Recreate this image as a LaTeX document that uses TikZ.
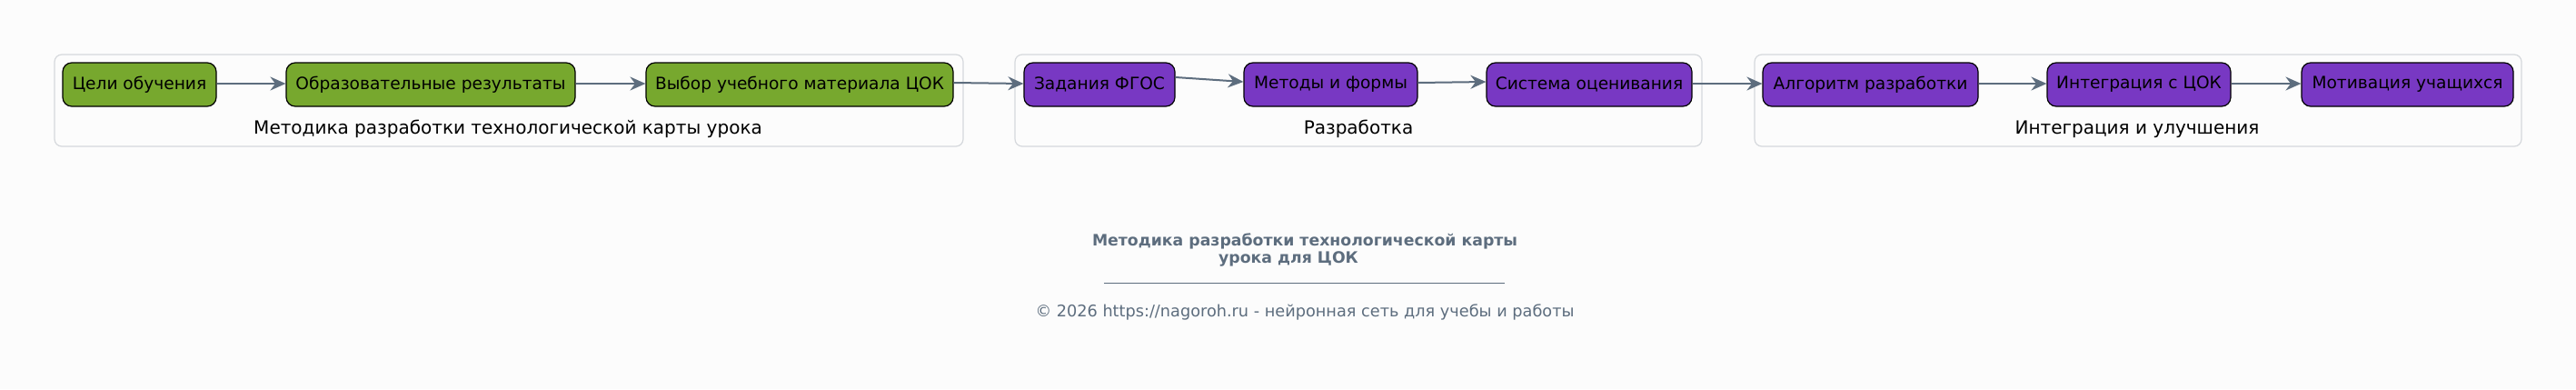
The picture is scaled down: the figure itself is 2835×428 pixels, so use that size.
\documentclass[tikz,border=0pt]{standalone}
\usepackage{fontspec}
\setmainfont{DejaVu Sans}
\usetikzlibrary{arrows.meta}
\definecolor{bgc}{HTML}{FCFCFC}
\definecolor{greenfill}{HTML}{77A82E}
\definecolor{purplefill}{HTML}{7838C3}
\definecolor{slate}{HTML}{5D6D7E}
\definecolor{clusterline}{HTML}{D5D8DC}
\tikzset{
  stepnode/.style={draw=black, line width=0.6pt, rounded corners=5pt, minimum height=24pt,
    inner xsep=3pt, font=\fontsize{9.3}{11}\selectfont, text=black, anchor=center},
  gnode/.style={stepnode, fill=greenfill},
  pnode/.style={stepnode, fill=purplefill},
  clusterbox/.style={draw=clusterline, line width=0.6pt, rounded corners=4pt, fill=none},
  clusterlabel/.style={font=\fontsize{10}{12}\selectfont, text=black},
  arr/.style={draw=slate, line width=1pt, -{Stealth[length=8.5pt,width=7.5pt,inset=2.8pt]}},
}
\begin{document}
\begin{tikzpicture}[x=0.5pt,y=-0.5pt]
\fill[bgc] (0,0) rectangle (2835,428);
\useasboundingbox (0,0) rectangle (2835,428);
% clusters
\node[clusterbox, minimum width=500pt, minimum height=50.5pt] (c1) at (560,110.5) {};
\node[clusterbox, minimum width=378pt, minimum height=50.5pt] (c2) at (1495,110.5) {};
\node[clusterbox, minimum width=422pt, minimum height=50.5pt] (c3) at (2353,110.5) {};
\node[clusterlabel] (l1) at (559,142) {Методика разработки технологической карты урока};
\node[clusterlabel] (l2) at (1495,142) {Разработка};
\node[clusterlabel] (l3) at (2352,142) {Интеграция и улучшения};
% nodes
\node[gnode, minimum width=84.5pt] (n1) at (153.5,93) {Цели обучения};
\node[gnode, minimum width=159pt] (n2) at (474,93) {Образовательные результаты};
\node[gnode, minimum width=169pt] (n3) at (880,93) {Выбор учебного материала ЦОК};
\node[pnode, minimum width=83pt] (n4) at (1210,93) {Задания ФГОС};
\node[pnode, minimum width=95.5pt] (n5) at (1464.5,93) {Методы и формы};
\node[pnode, minimum width=113pt] (n6) at (1749,93) {Система оценивания};
\node[pnode, minimum width=118.5pt] (n7) at (2058.5,93) {Алгоритм разработки};
\node[pnode, minimum width=101pt] (n8) at (2354,93) {Интеграция с ЦОК};
\node[pnode, minimum width=116.5pt] (n9) at (2649.5,93) {Мотивация учащихся};
% arrows
\draw[arr] ([yshift=0.5pt]n1.east) -- ([yshift=0.5pt]n2.west);
\draw[arr] ([yshift=0.5pt]n2.east) -- ([yshift=0.5pt]n3.west);
\draw[arr] ([yshift=1pt]n3.east) -- ([yshift=0.5pt]n4.west);
\draw[arr] ([yshift=4pt]n4.east) -- ([yshift=1.5pt]n5.west);
\draw[arr] ([yshift=1pt]n5.east) -- ([yshift=1.5pt]n6.west);
\draw[arr] ([yshift=0.5pt]n6.east) -- ([yshift=0.5pt]n7.west);
\draw[arr] ([yshift=0.5pt]n7.east) -- ([yshift=0.5pt]n8.west);
\draw[arr] ([yshift=0.5pt]n8.east) -- ([yshift=0.5pt]n9.west);
% footer
\node[font=\bfseries\fontsize{8.65}{9.2}\selectfont, text=slate, align=center] (title) at (1436,275)
  {Методика разработки технологической карты\\урока для ЦОК\hspace*{18pt}};
\coordinate (rl) at (1215,311);
\coordinate (rr) at (1656,311);
\draw[slate, line width=0.5pt] (rl) -- (rr);
\node[font=\fontsize{8.85}{10}\selectfont, text=slate] (copy) at (1436,343.5)
  {© 2026 https://nagoroh.ru - нейронная сеть для учебы и работы};
\end{tikzpicture}
\end{document}
